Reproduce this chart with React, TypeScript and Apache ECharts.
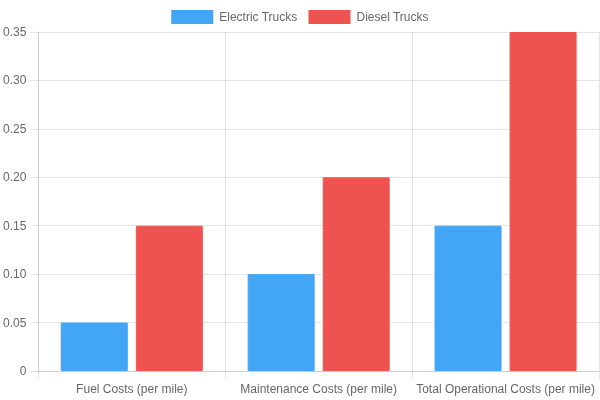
import React, { useEffect, useRef } from 'react';
import * as echarts from 'echarts';

const categories = ['Fuel Costs (per mile)', 'Maintenance Costs (per mile)', 'Total Operational Costs (per mile)'];
const electricTrucks = [0.05, 0.1, 0.15];
const dieselTrucks = [0.15, 0.2, 0.35];

const gridColor = 'rgba(0,0,0,0.1)';
const textColor = '#666';
const font = '"Liberation Sans", Arial, sans-serif';

const App: React.FC = () => {
  const chartRef = useRef<HTMLDivElement>(null);

  useEffect(() => {
    if (!chartRef.current) return;
    const chart = echarts.init(chartRef.current, undefined, { renderer: 'svg' });
    chart.setOption({
      animation: false,
      textStyle: { fontFamily: font },
      legend: {
        top: 5,
        itemWidth: 40,
        itemHeight: 12,
        itemGap: 11,
        icon: 'rect',
        textStyle: { color: textColor, fontSize: 12, fontFamily: font, padding: [0, 0, 0, 2] },
        data: ['Electric Trucks', 'Diesel Trucks']
      },
      grid: { left: 38, right: 1, top: 32, bottom: 29, containLabel: false },
      xAxis: {
        type: 'category',
        data: categories,
        boundaryGap: true,
        axisLine: { show: true, lineStyle: { color: gridColor } },
        axisTick: { show: true, length: 8, lineStyle: { color: gridColor } },
        splitLine: { show: true, lineStyle: { color: gridColor } },
        axisLabel: { color: textColor, fontSize: 12, margin: 12, interval: 0, fontFamily: font }
      },
      yAxis: {
        type: 'value',
        min: 0,
        max: 0.35,
        interval: 0.05,
        axisLine: { show: true, lineStyle: { color: gridColor } },
        axisTick: { show: true, length: 8, lineStyle: { color: gridColor } },
        splitLine: { show: true, lineStyle: { color: gridColor } },
        axisLabel: {
          color: textColor,
          fontSize: 12,
          margin: 12,
          fontFamily: font,
          formatter: (v: number) => (v === 0 ? '0' : v.toFixed(2))
        }
      },
      series: [
        {
          name: 'Electric Trucks',
          type: 'bar',
          data: electricTrucks,
          barWidth: 67,
          barGap: '12%',
          itemStyle: { color: '#42A5F5', borderColor: '#42A5F5', borderWidth: 1 }
        },
        {
          name: 'Diesel Trucks',
          type: 'bar',
          data: dieselTrucks,
          barWidth: 67,
          barGap: '12%',
          itemStyle: { color: '#EF5350', borderColor: '#EF5350', borderWidth: 1 }
        }
      ]
    });
    return () => chart.dispose();
  }, []);

  return <div ref={chartRef} style={{ position: 'fixed', left: 0, top: 0, width: 600, height: 400 }}></div>;
};

export default App;
